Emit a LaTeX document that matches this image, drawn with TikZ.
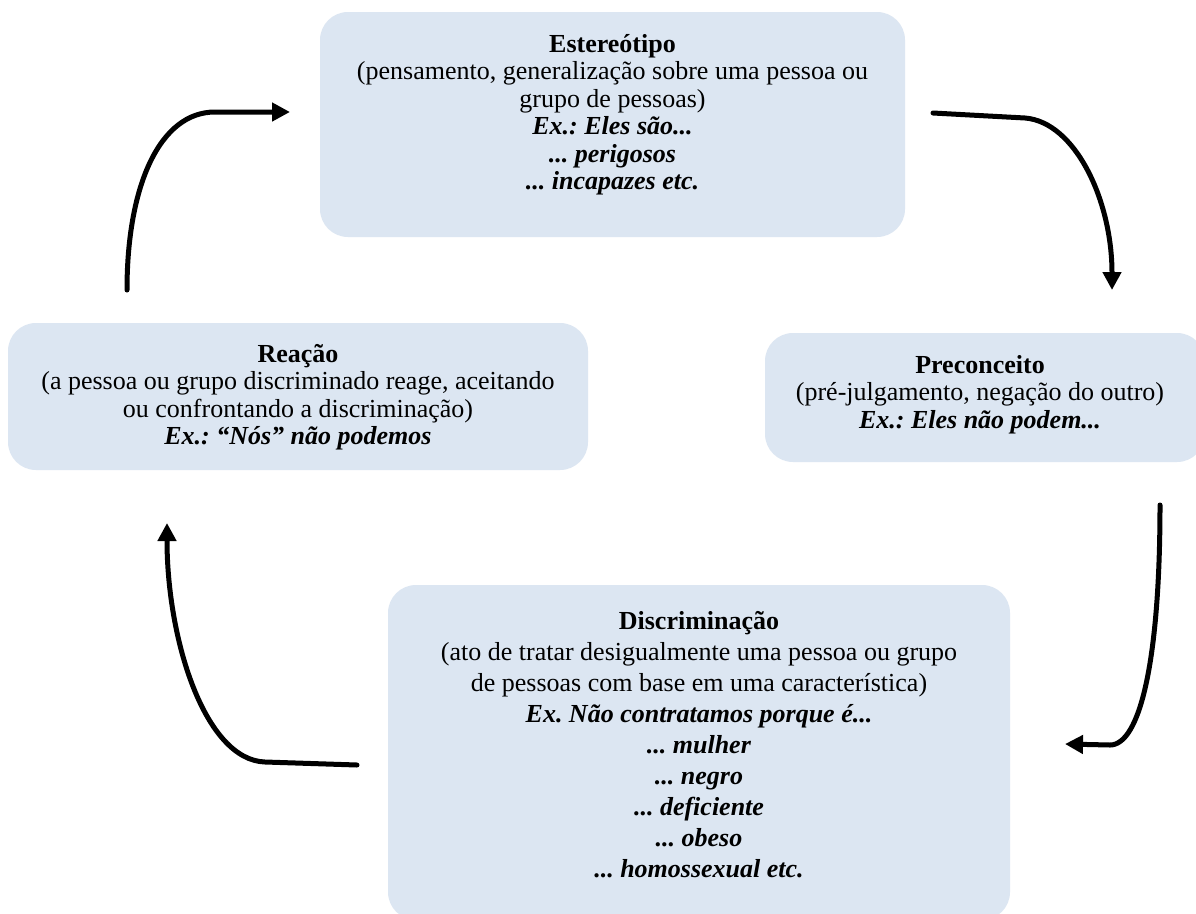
\documentclass[tikz,border=0pt]{standalone}
\usepackage{fontspec}
\setmainfont{Liberation Serif}
\usetikzlibrary{arrows.meta}
\definecolor{boxblue}{HTML}{DCE6F2}
\frenchspacing
\tikzset{
  box/.style={fill=boxblue, draw=none, rounded corners=28pt, inner sep=0pt},
  txt/.style={align=center, inner sep=0pt, anchor=north, font=\fontsize{26}{27.5}\selectfont\frenchspacing},
  txtd/.style={align=center, inner sep=0pt, anchor=north, font=\fontsize{26}{31}\selectfont\frenchspacing},
  cyc/.style={line width=5pt, -{Triangle[length=18pt,width=18pt]}, line cap=round, line join=round}
}
\begin{document}
\begin{tikzpicture}[x=1pt,y=-1pt]
\clip (0,0) rectangle (1196,913);
\fill[white] (0,0) rectangle (1196,913);
% boxes
\node[box, minimum width=585pt, minimum height=225pt] (E) at (612.5,124.5) {};
\node[box, minimum width=580pt, minimum height=147pt] (R) at (298,396.5) {};
\node[box, minimum width=440pt, minimum height=129pt] (P) at (985,397.5) {};
\node[box, minimum width=622pt, minimum height=335pt] (D) at (699,752.5) {};
% texts
\node[txt] (Et) at (612.5,34) {\textbf{Estereótipo}\\(pensamento, generalização sobre uma pessoa ou\\grupo de pessoas)\\\textbf{\textit{Ex.: Eles são...}}\\\textbf{\textit{... perigosos}}\\\textbf{\textit{... incapazes etc.}}};
\node[txt] (Rt) at (298,344) {\textbf{Reação}\\(a pessoa ou grupo discriminado reage, aceitando\\ou confrontando a discriminação)\\\textbf{\textit{Ex.: “Nós” não podemos}}};
\node[txt] (Pt) at (980,355) {\textbf{Preconceito}\\(pré-julgamento, negação do outro)\\\textbf{\textit{Ex.: Eles não podem...}}};
\node[txtd] (Dt) at (699,611) {\textbf{Discriminação}\\(ato de tratar desigualmente uma pessoa ou grupo\\de pessoas com base em uma característica)\\\textbf{\textit{Ex. Não contratamos porque é...}}\\\textbf{\textit{... mulher}}\\\textbf{\textit{... negro}}\\\textbf{\textit{... deficiente}}\\\textbf{\textit{... obeso}}\\\textbf{\textit{... homossexual etc.}}};
% connector end points
\coordinate (r1) at (127,290);
\coordinate (e1) at (290,112);
\coordinate (e2) at (933,113);
\coordinate (p1) at (1112,290);
\coordinate (p2) at (1160,505);
\coordinate (d1) at (1065,744);
\coordinate (d2) at (357,765);
\coordinate (r2) at (167,523);
% arrows
\draw[cyc] (r1) .. controls (127,185) and (160,112) .. (215,112) -- (e1);
\draw[cyc] (e2) -- (1025,118) .. controls (1075,122) and (1112,200) .. (p1);
\draw[cyc] (p2) .. controls (1160,660) and (1140,745) .. (1110,745) -- (d1);
\draw[cyc] (d2) -- (265,762) .. controls (205,760) and (167,640) .. (r2);
\end{tikzpicture}
\end{document}
